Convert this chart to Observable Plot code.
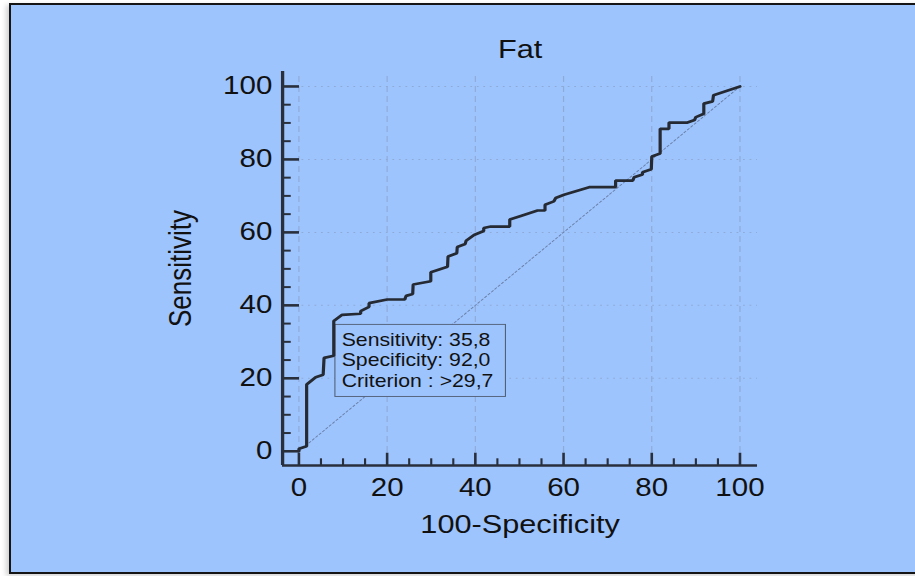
<!DOCTYPE html>
<html>
<head>
<meta charset="utf-8">
<script src="https://cdn.jsdelivr.net/npm/d3@7"></script>
<script src="https://cdn.jsdelivr.net/npm/@observablehq/plot@0.6"></script>
<style>
  html, body { margin: 0; padding: 0; background: #ffffff; }
  body { width: 915px; height: 576px; position: relative; overflow: hidden; font-family: "Liberation Sans", Arial, sans-serif; }
  #card { position: absolute; left: 9px; top: 3px; width: 920px; height: 567px; border: 2px solid #151515; background: #9ec4fd; box-shadow: -3px 2px 5px rgba(0,0,0,0.18); }
  #chart { position: absolute; left: 0; top: 0; width: 915px; height: 576px; }
</style>
</head>
<body>
<div id="card"></div>
<div id="chart"></div>
<script>
// ---- data ----
const title = "Fat";
const xLabel = "100-Specificity";
const yLabel = "Sensitivity";
// ROC curve vertices: 100-Specificity (x) and Sensitivity (y)
const fpr = [0,0,1.75,1.75,3.8,5.5,5.7,7.9,7.9,9.8,14,14,15.9,15.9,20,24,24.3,25.8,25.9,29.9,29.9,33.7,33.8,35.8,35.9,37.7,37.9,39.7,41.9,41.9,43.5,47.8,47.8,50.3,54.1,55.8,55.8,57.8,58.2,60.1,65.8,71.8,71.8,75.7,76,77.9,77.9,79.9,80,81.9,81.9,83.9,83.9,88.1,89.7,90,91.8,91.8,93.8,94,100];
const tpr = [0,0.7,1.4,18.3,20.3,21,25.6,26.2,35.7,37.4,37.7,38.4,39.6,40.6,41.6,41.6,42.6,43.1,45.7,46.6,49.1,50.6,53.4,54.3,56,56.8,57.7,59.3,60.4,61.2,61.6,61.6,63.5,64.5,66,66,67.6,68.5,69.4,70.3,72.4,72.4,74.2,74.2,75.1,75.9,76.5,77.3,80.8,81.6,88.4,88.4,90.1,90.1,90.8,91.6,92.5,95.3,95.9,97.6,100];
const chanceLine = [0, 100];
const majorTicks = [0, 20, 40, 60, 80, 100];
const minorTicks = [5, 10, 15, 25, 30, 35, 45, 50, 55, 65, 70, 75, 85, 90, 95];
const hGrid = [20, 40, 60, 80, 100];
const xDomain = [-3.7, 104];
const yDomain = [-3.9, 104.1];
// optimal criterion annotation
const critSensitivity = 35.8;
const critSpecificity = 92.0;
const critValue = 29.7;

// ---- layout ----
const STRETCH = 1.1806;           // reference is horizontally stretched
const W = 775, H = 576;
const mL = 238.86, mR = 133.8, mT = 71, mB = 111;
const frameW = W - mL - mR, frameH = H - mT - mB;
const ink = "#29303c";
const gridCol = "#8eabd8";
const fmt = v => v.toFixed(1).replace(".", ",");

const roc = fpr.map((x, i) => ({x, y: tpr[i]}));
const annot = [{x: 100 - critSpecificity, y: critSensitivity,
  text: `Sensitivity: ${fmt(critSensitivity)}\nSpecificity: ${fmt(critSpecificity)}\nCriterion : >${fmt(critValue)}`}];

const plot = Plot.plot({
  width: W, height: H,
  marginLeft: mL, marginRight: mR, marginTop: mT, marginBottom: mB,
  style: {background: "transparent", fontFamily: "'Liberation Sans', Arial, sans-serif", color: "#111"},
  x: {domain: xDomain, axis: null},
  y: {domain: yDomain, axis: null},
  marks: [
    // grid
    Plot.ruleX(majorTicks, {x: d => d, stroke: gridCol, strokeWidth: 1, strokeDasharray: "6,4", insetTop: 5}),
    Plot.ruleY(hGrid, {y: d => d, stroke: gridCol, strokeWidth: 1, strokeDasharray: "1.5,4"}),
    // chance diagonal
    Plot.line(chanceLine, {x: d => d, y: d => d, stroke: "#6a80aa", strokeWidth: 0.9, strokeDasharray: "2,2"}),
    // annotation text (box added after render)
    Plot.text(annot, {x: "x", y: "y", text: "text", textAnchor: "start", lineAnchor: "top",
      dx: 6.3, dy: 10.3, fontSize: 18, lineHeight: 1.14, fill: "#111"}),
    // ROC curve
    Plot.line(roc, {x: "x", y: "y", stroke: "#252a33", strokeWidth: 2.7, strokeLinejoin: "miter"}),
    // ticks (inward)
    Plot.ruleY(majorTicks, {y: d => d, stroke: ink, strokeWidth: 2.6, insetRight: frameW - 14.4}),
    Plot.ruleY(minorTicks, {y: d => d, stroke: ink, strokeWidth: 2, insetRight: frameW - 7.4}),
    Plot.ruleX(majorTicks, {x: d => d, stroke: ink, strokeWidth: 2.2, insetTop: frameH - 12.3}),
    Plot.ruleX(minorTicks, {x: d => d, stroke: ink, strokeWidth: 1.8, insetTop: frameH - 6.7}),
    // axis lines
    Plot.ruleX([xDomain[0]], {x: d => d, stroke: ink, strokeWidth: 2.8}),
    Plot.ruleY([yDomain[0]], {y: d => d, stroke: ink, strokeWidth: 2.7}),
    // tick labels
    Plot.axisY(majorTicks, {tickSize: 0, tickPadding: 8.7, fontSize: 25, label: null, fill: "#111"}),
    Plot.axisX(majorTicks, {tickSize: 0, tickPadding: 12.5, fontSize: 25, label: null, fill: "#111"}),
    // titles
    Plot.text([title], {frameAnchor: "top", textAnchor: "middle", dy: -13.7, lineAnchor: "bottom", fontSize: 26, fill: "#111"}),
    Plot.text([xLabel], {frameAnchor: "bottom", textAnchor: "middle", dy: 67.7, lineAnchor: "bottom", fontSize: 26, fill: "#111"}),
    Plot.text([yLabel], {frameAnchor: "left", textAnchor: "middle", rotate: -90, dx: -77.9, lineAnchor: "bottom", fontSize: 26, fill: "#111"})
  ]
});

document.getElementById("chart").appendChild(plot);
plot.setAttribute("width", 915);
plot.setAttribute("height", 576);
plot.setAttribute("viewBox", `0 0 ${W} ${H}`);
plot.setAttribute("preserveAspectRatio", "none");
plot.style.width = "915px";
plot.style.height = "576px";
plot.style.maxWidth = "none";
plot.style.background = "transparent";
plot.style.overflow = "visible";

// opaque box behind the criterion annotation
const t = [...plot.querySelectorAll("text")].find(e => e.textContent.includes("Sensitivity:"));
if (t) {
  const bb = t.getBBox();
  const r = document.createElementNS("http://www.w3.org/2000/svg", "rect");
  r.setAttribute("x", bb.x - 5.7);
  r.setAttribute("y", bb.y - 4.7);
  r.setAttribute("width", bb.width + 5.7 + 10.2);
  r.setAttribute("height", bb.height + 4.7 + 6.2);
  r.setAttribute("fill", "#9ec4fd");
  r.setAttribute("stroke", "#4f5d73");
  r.setAttribute("stroke-width", "0.9");
  if (t.getAttribute("transform")) r.setAttribute("transform", t.getAttribute("transform"));
  t.parentNode.insertBefore(r, t);
}
</script>
</body>
</html>
